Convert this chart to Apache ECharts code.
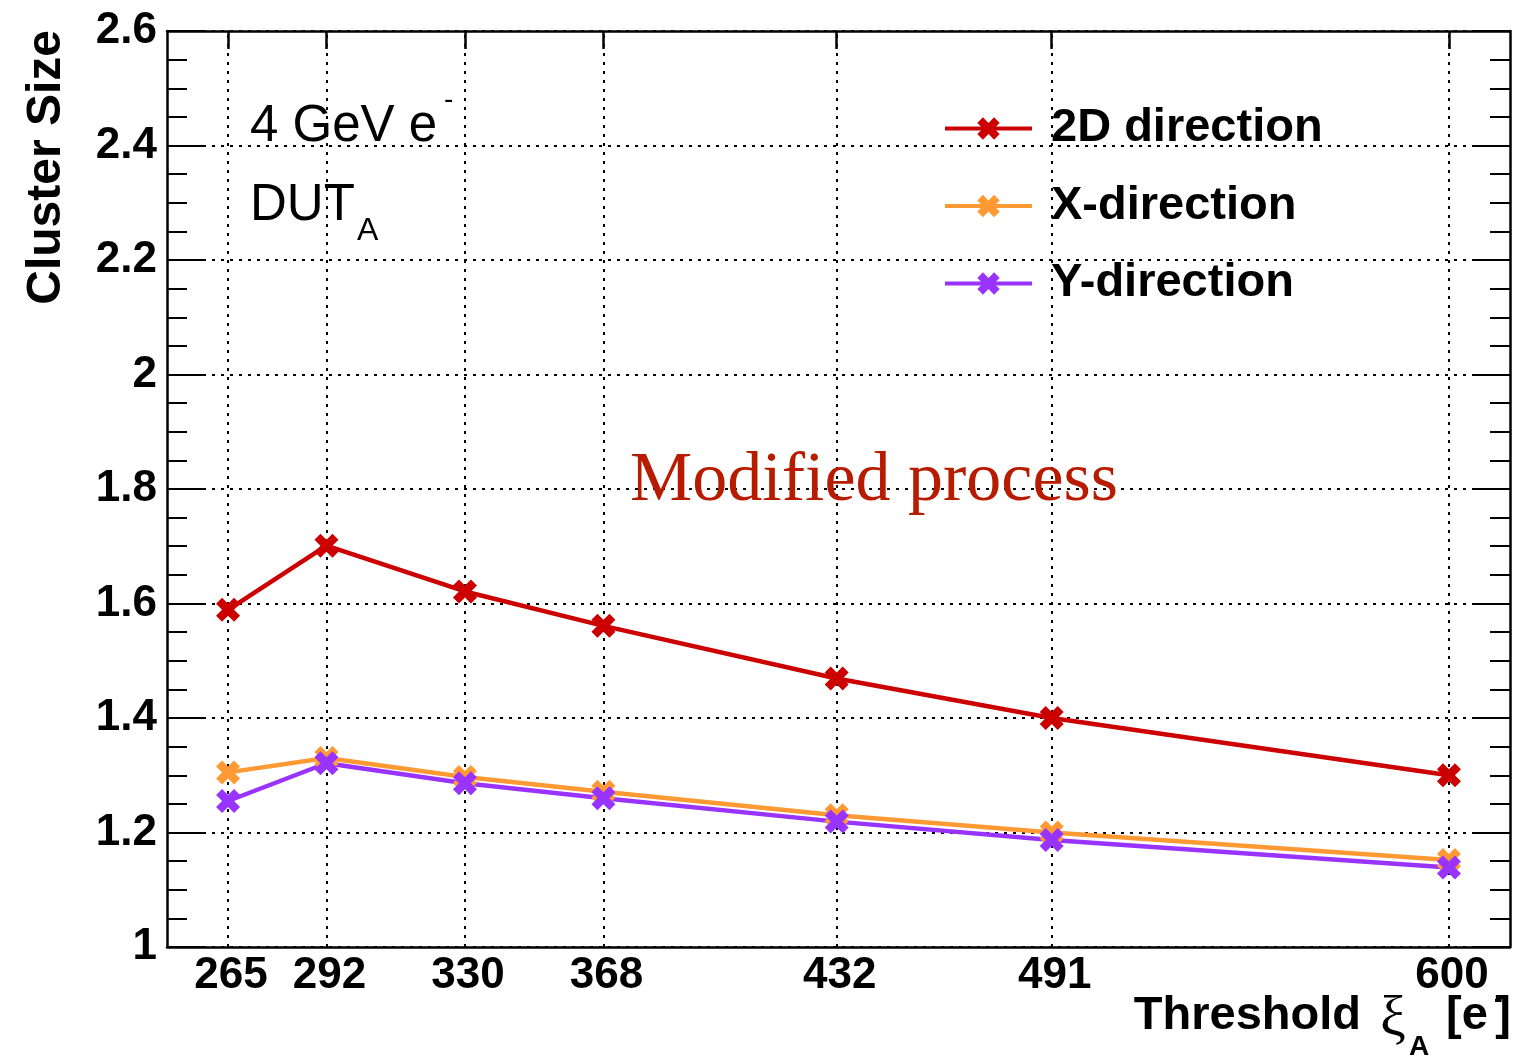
<!DOCTYPE html>
<html>
<head>
<meta charset="utf-8">
<script src="https://cdn.jsdelivr.net/npm/echarts@6/dist/echarts.min.js"></script>
<style>
  html, body { margin: 0; padding: 0; background: #ffffff; }
  #chart { width: 1522px; height: 1056px; }
</style>
</head>
<body>
<div id="chart"></div>
<script>
// Threshold settings (electrons) and mean cluster sizes measured at each
const thresholds = [265, 292, 330, 368, 432, 491, 600];
const size2D = [1.589, 1.701, 1.621, 1.561, 1.469, 1.400, 1.300];
const sizeX  = [1.305, 1.330, 1.297, 1.271, 1.230, 1.200, 1.152];
const sizeY  = [1.255, 1.321, 1.286, 1.260, 1.219, 1.187, 1.139];
const seriesNames = ['2D direction', 'X-direction', 'Y-direction'];

const palette = ['#cc0000', '#ff9933', '#9933ff'];
const SANS = '"Liberation Sans", Arial, Helvetica, sans-serif';
const SERIF = '"Liberation Serif", "Times New Roman", serif';

// Thick filled "X" marker
const crossMarker = 'path://M5,0 L10,5 L15,0 L20,5 L15,10 L20,15 L15,20 L10,15 L5,20 L0,15 L5,10 L0,5 Z';

const xMin = 248.25, xMax = 616.75;
const yMin = 1, yMax = 2.6;

const frame = { show: true, onZero: false, lineStyle: { color: '#000', width: 2.5 } };
const dotted = { color: '#000', width: 2, type: [3, 6] };

function pairs(values) {
  return thresholds.map((t, i) => [t, values[i]]);
}

function lineSeries(name, values, color, extra) {
  return Object.assign({
    name: name,
    type: 'line',
    xAxisIndex: 0,
    yAxisIndex: 0,
    data: pairs(values),
    symbol: crossMarker,
    symbolSize: 24,
    showAllSymbol: true,
    lineStyle: { color: color, width: 4.5 },
    itemStyle: { color: color },
    z: 3
  }, extra || {});
}

function text(x, y, str, font, opts) {
  const o = opts || {};
  return {
    type: 'text',
    x: x, y: y,
    rotation: o.rotation || 0,
    silent: true,
    z: 10,
    style: {
      text: str,
      font: font,
      fill: o.fill || '#000',
      align: o.align || 'left',
      textAlign: o.align || 'left',
      verticalAlign: 'middle',
      textVerticalAlign: 'middle'
    }
  };
}

const chart = echarts.init(document.getElementById('chart'), null, { renderer: 'canvas' });

chart.setOption({
  animation: false,
  backgroundColor: '#ffffff',
  grid: { left: 167, right: 12, top: 31, bottom: 109, containLabel: false },
  xAxis: [
    {
      type: 'value', position: 'bottom', min: xMin, max: xMax,
      axisLine: frame,
      axisTick: { show: false },
      splitLine: { show: false },
      axisLabel: {
        customValues: thresholds,
        fontFamily: SANS, fontWeight: 'bold', fontSize: 44, color: '#000', margin: 7,
        padding: [0, 0, 0, 6]
      }
    },
    {
      type: 'value', position: 'top', min: xMin, max: xMax,
      axisLine: frame,
      axisTick: {
        show: true, inside: true, length: 18, customValues: thresholds,
        lineStyle: { color: '#000', width: 2.5 }
      },
      axisLabel: { show: false },
      splitLine: { show: false }
    }
  ],
  yAxis: [
    {
      type: 'value', position: 'left', min: yMin, max: yMax, interval: 0.2,
      axisLine: frame,
      axisTick: { show: true, inside: true, length: 38, lineStyle: { color: '#000', width: 2 } },
      minorTick: { show: true, splitNumber: 4, length: 20, lineStyle: { color: '#000', width: 2 } },
      splitLine: { show: true, lineStyle: dotted },
      axisLabel: {
        fontFamily: SANS, fontWeight: 'bold', fontSize: 44, color: '#000', margin: 10,
        formatter: v => String(Math.round(v * 10) / 10)
      }
    },
    {
      type: 'value', position: 'right', min: yMin, max: yMax, interval: 0.2,
      axisLine: frame,
      axisTick: { show: true, inside: true, length: 38, lineStyle: { color: '#000', width: 2 } },
      minorTick: { show: true, splitNumber: 4, length: 20, lineStyle: { color: '#000', width: 2 } },
      splitLine: { show: false },
      axisLabel: { show: false }
    }
  ],
  legend: {
    data: seriesNames,
    orient: 'vertical',
    left: 943,
    top: 105,
    padding: 0,
    itemWidth: 87,
    itemHeight: 28,
    itemGap: 30.5,
    selectedMode: false,
    lineStyle: { width: 4 },
    textStyle: {
      fontFamily: SANS, fontWeight: 'bold', fontSize: 47, color: '#000',
      lineHeight: 46, padding: [0, 0, 0, 14]
    }
  },
  series: [
    lineSeries(seriesNames[0], size2D, palette[0], {
      // vertical dotted grid at each threshold setting
      markLine: {
        z: 1,
        silent: true,
        symbol: ['none', 'none'],
        label: { show: false },
        lineStyle: dotted,
        emphasis: { disabled: true },
        data: thresholds.map(t => ({ xAxis: t }))
      }
    }),
    lineSeries(seriesNames[1], sizeX, palette[1]),
    lineSeries(seriesNames[2], sizeY, palette[2])
  ],
  graphic: [
    // axis titles
    text(47, 30, 'Cluster Size', 'bold 48px ' + SANS, { align: 'right', rotation: Math.PI / 2 }),
    text(1361, 1016, 'Threshold', 'bold 47px ' + SANS, { align: 'right' }),
    text(1380, 1020, 'ξ', '58px ' + SERIF),
    text(1409, 1047, 'A', 'bold 28px ' + SANS),
    text(1446, 1016, '[e', 'bold 47px ' + SANS),
    text(1494, 1000, '-', 'bold 26px ' + SANS),
    text(1511, 1016, ']', 'bold 47px ' + SANS, { align: 'right' }),
    // beam and device annotations
    text(250, 127, '4 GeV e', '51px ' + SANS),
    text(444, 100, '-', '28px ' + SANS),
    text(250, 206, 'DUT', '51px ' + SANS),
    text(357, 231, 'A', '32px ' + SANS),
    text(630, 482, 'Modified process', '70px ' + SERIF, { fill: '#b81c00' })
  ]
});
</script>
</body>
</html>
